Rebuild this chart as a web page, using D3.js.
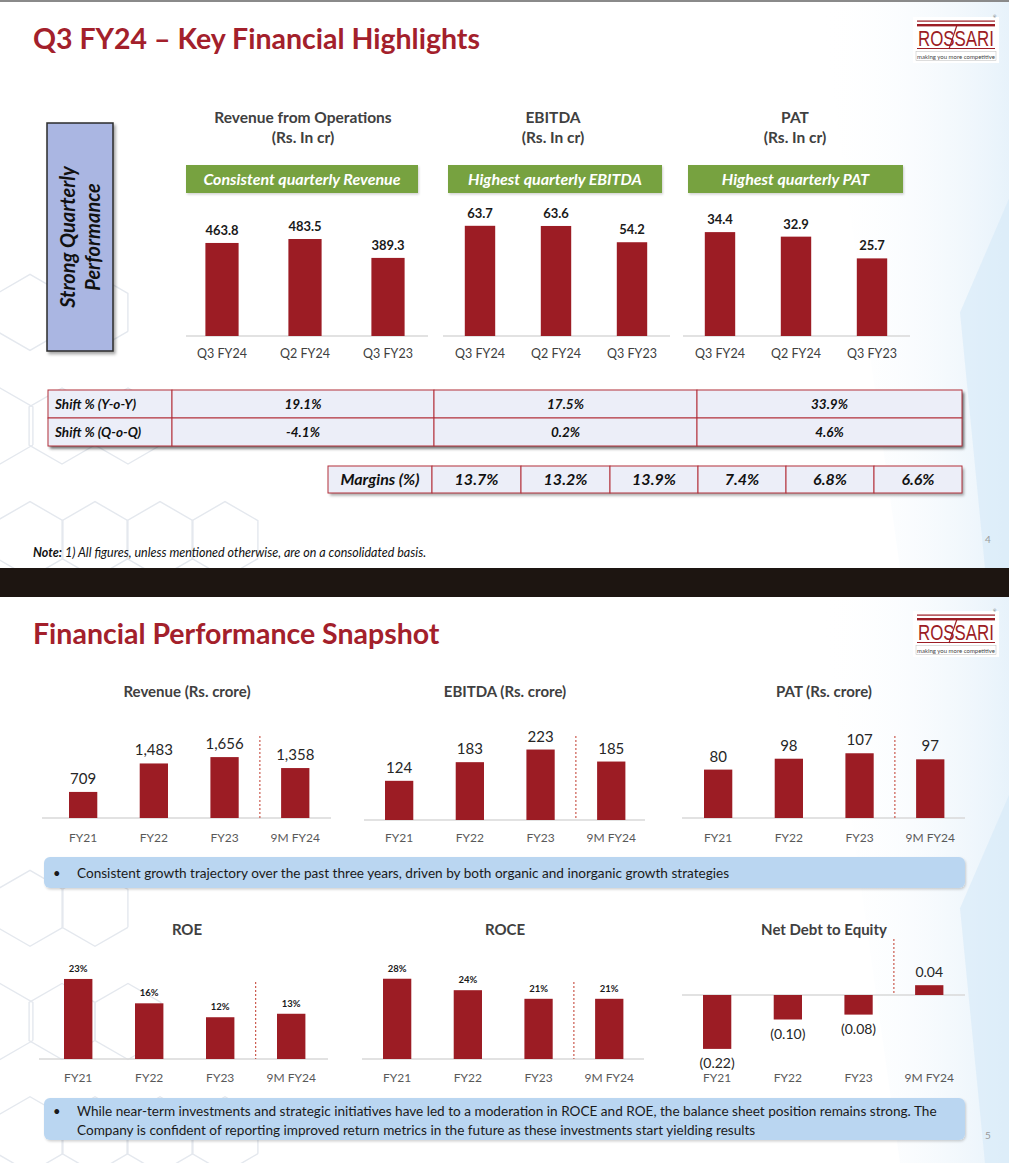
<!DOCTYPE html>
<html><head><meta charset="utf-8">
<script src="https://cdn.jsdelivr.net/npm/d3@7"></script>
<style>
body{margin:0;background:#fff}
svg{display:block}
text{font-family:Lato,"Open Sans",sans-serif}
</style>
</head><body>
<svg id="c" width="1009" height="1163"></svg>
<script>
// ---------------- DATA ----------------
const quarters = ["Q3 FY24", "Q2 FY24", "Q3 FY23"];
const qRevenue = [463.8, 483.5, 389.3];
const qEbitda = [63.7, 63.6, 54.2];
const qPat = [34.4, 32.9, 25.7];
const qTitles = ["Revenue from Operations", "EBITDA", "PAT"];
const qUnit = "(Rs. In cr)";
const qBanners = ["Consistent quarterly Revenue", "Highest quarterly EBITDA", "Highest quarterly PAT"];
const shiftRows = ["Shift % (Y-o-Y)", "Shift % (Q-o-Q)"];
const shiftYoY = [19.1, 17.5, 33.9];
const shiftQoQ = [-4.1, 0.2, 4.6];
const marginLabel = "Margins (%)";
const margins = [13.7, 13.2, 13.9, 7.4, 6.8, 6.6];
const years = ["FY21", "FY22", "FY23", "9M FY24"];
const revenue = [709, 1483, 1656, 1358];
const ebitda = [124, 183, 223, 185];
const pat = [80, 98, 107, 97];
const roe = [23, 16, 12, 13];
const roce = [28, 24, 21, 21];
const netDebtEquity = [-0.22, -0.10, -0.08, 0.04];
const bullet1 = "Consistent growth trajectory over the past three years, driven by both organic and inorganic growth strategies";
const bullet2 = ["While near-term investments and strategic initiatives have led to a moderation in ROCE and ROE, the balance sheet position remains strong. The",
                 "Company is confident of reporting improved return metrics in the future as these investments start yielding results"];

// ---------------- STYLE ----------------
const RED = "#9c1c24";
const TITLE_RED = "#a3202b";
const GRAY = "#404040";

const svg = d3.select("#c");
const defs = svg.append("defs");
const sh = defs.append("filter").attr("id","sh").attr("x","-10%").attr("y","-20%").attr("width","130%").attr("height","160%");
sh.append("feDropShadow").attr("dx",2).attr("dy",2.5).attr("stdDeviation",1.6).attr("flood-color","#000").attr("flood-opacity",0.35);
const sh2 = defs.append("filter").attr("id","sh2").attr("x","-5%").attr("y","-20%").attr("width","110%").attr("height","160%");
sh2.append("feDropShadow").attr("dx",1).attr("dy",1.5).attr("stdDeviation",1.2).attr("flood-color","#000").attr("flood-opacity",0.18);
const gr = defs.append("linearGradient").attr("id","sw").attr("x1","0").attr("y1","0").attr("x2","1").attr("y2","0");
gr.append("stop").attr("offset","0").attr("stop-color","#ffffff").attr("stop-opacity",0);
gr.append("stop").attr("offset","1").attr("stop-color","#cfe5f6").attr("stop-opacity",0.9);

// ---------------- BACKGROUND ----------------
function slideBg(y0, y1){
  const g = svg.append("g");
  g.append("rect").attr("x",0).attr("y",y0).attr("width",1009).attr("height",y1-y0).attr("fill","#fff");
  g.append("path").attr("d",`M820,${y0} L1009,${y0} L1009,${y1} L900,${y1} Z`).attr("fill","url(#sw)").attr("opacity",0.55);
  g.append("path").attr("d",`M960,${y0+ (y1-y0)*0.55} L1009,${y0+(y1-y0)*0.35} L1009,${y1} L985,${y1} Z`).attr("fill","#d6eaf8").attr("opacity",0.6);
  const hex = (cx, cy, r) => d3.range(7).map(i => [cx + r*Math.cos(Math.PI/3*i + Math.PI/6), cy + r*Math.sin(Math.PI/3*i + Math.PI/6)]);
  const centers = [[30,0.55],[95,0.55],[62,0.75],[128,0.75],[0,0.75],[30,0.95],[95,0.95],[160,0.95],[225,0.95]];
  centers.forEach(([cx,f]) => {
    g.append("path").attr("d", d3.line()(hex(cx, y0 + (y1-y0)*f, 38))).attr("fill","none").attr("stroke","#e4e8ee").attr("stroke-width",1.4);
  });
}
slideBg(0, 568);
slideBg(597, 1163);
svg.append("rect").attr("x",0).attr("y",0).attr("width",1009).attr("height",2).attr("fill","#8a8a8a");
svg.append("rect").attr("x",0).attr("y",568).attr("width",1009).attr("height",29).attr("fill","#1d1511");

// ---------------- TITLES & LOGOS ----------------
function slideTitle(txt, y){
  svg.append("text").attr("x",33).attr("y",y).attr("font-size",28.5).attr("font-weight",700).attr("fill",TITLE_RED).text(txt);
}
slideTitle("Q3 FY24 – Key Financial Highlights", 49);
slideTitle("Financial Performance Snapshot", 644);

function logo(y){
  const g = svg.append("g").attr("transform",`translate(913,${y})`);
  g.append("rect").attr("width",86).attr("height",46).attr("fill","#fff");
  g.append("rect").attr("x",4).attr("y",3.5).attr("width",78).attr("height",1.2).attr("fill",RED);
  g.append("rect").attr("x",4).attr("y",7).attr("width",78).attr("height",2.4).attr("fill",RED);
  const t = g.append("text").attr("x",0).attr("y",0).attr("font-size",22).attr("fill",RED)
    .style("font-family","'Liberation Sans Narrow','Liberation Sans',sans-serif").text("ROSSARI");
  const w = t.node().getComputedTextLength();
  t.attr("transform",`translate(5,28.5) scale(${76/w},1.02)`);
  g.append("line").attr("x1",36).attr("y1",32).attr("x2",44).attr("y2",8).attr("stroke",RED).attr("stroke-width",1.2);
  g.append("rect").attr("x",4).attr("y",31).attr("width",78).attr("height",1).attr("fill",RED);
  g.append("rect").attr("x",3).attr("y",34.5).attr("width",80).attr("height",9).attr("fill","none").attr("stroke","#bbb").attr("stroke-width",0.5);
  const t2 = g.append("text").attr("font-size",6).attr("fill","#444").text("making you more competitive");
  const w2 = t2.node().getComputedTextLength();
  t2.attr("transform",`translate(4,41.5) scale(${78/w2},1)`);
  g.append("text").attr("x",80).attr("y",1).attr("font-size",4).attr("fill","#444").text("®");
}
logo(17);
logo(611);

// ---------------- GENERIC BAR CHART ----------------
function barChart(o){
  const g = svg.append("g");
  const x = d3.scaleBand().domain(o.cats).range(o.xr).paddingInner(0.6).paddingOuter(0.3);
  const y = d3.scaleLinear().domain(o.domain).range(o.yr);
  const zero = y(0);
  const ax = g.append("g").attr("transform",`translate(0,${zero})`)
    .call(d3.axisBottom(x).tickSize(0).tickPadding(o.tickPad).tickSizeOuter(0));
  ax.select(".domain").attr("stroke","#d9d9d9").attr("stroke-width",1.6)
    .attr("d", `M${o.axisX[0]},0H${o.axisX[1]}`);
  ax.selectAll("text").attr("font-size",o.catSize).attr("fill",o.catColor || "#595959")
    .style("font-family","Lato,'Open Sans',sans-serif");
  g.selectAll("rect.bar").data(o.vals).join("rect").attr("class","bar")
    .attr("x",(d,i)=>x(o.cats[i])).attr("width",x.bandwidth())
    .attr("y",d=>Math.min(y(d),zero)).attr("height",d=>Math.abs(y(d)-zero))
    .attr("fill",RED);
  g.selectAll("text.val").data(o.vals).join("text").attr("class","val")
    .attr("x",(d,i)=>x(o.cats[i]) + x.bandwidth()/2)
    .attr("y",d=> d>=0 ? y(d) - o.valGap : y(d) + o.negGap)
    .attr("text-anchor","middle").attr("font-size",o.valSize).attr("font-weight",o.valWeight)
    .attr("fill",o.valColor || "#1a1a1a").text(o.fmt);
  if(o.dash){
    const xs = x(o.cats[o.cats.length-1]) - (x.step()-x.bandwidth())/2;
    g.append("line").attr("x1",xs).attr("x2",xs).attr("y1",o.dash[0]).attr("y2",o.dash[1])
      .attr("stroke","#c0392b").attr("stroke-width",1).attr("stroke-dasharray","2,2");
  }
  if(o.title){
    o.title.forEach((t,i)=> g.append("text").attr("x",o.titleX).attr("y",o.titleY + i*20)
      .attr("text-anchor","middle").attr("font-size",o.titleSize).attr("font-weight",700).attr("fill",GRAY).text(t));
  }
  return g;
}

// ---------------- TOP SLIDE ----------------
svg.append("rect").attr("x",47).attr("y",123).attr("width",66).attr("height",228)
  .attr("fill","#aab6e2").attr("stroke","#2b2b2b").attr("stroke-width",1.5).attr("filter","url(#sh)");
[["Strong Quarterly",68],["Performance",93]].forEach(([t,cx]) => {
  svg.append("text").attr("transform",`translate(${cx + 7},237) rotate(-90)`).attr("text-anchor","middle")
    .attr("font-size",20).attr("font-weight",700).attr("font-style","italic").attr("fill","#111").text(t);
});

const topCfg = [
  {vals:qRevenue, xr:[180.5,429.5], axisX:[186,428], domain:[0,500], h:100.3, fmt:d=>d.toFixed(1), titleX:303, banner:[186,418]},
  {vals:qEbitda, xr:[442,670], axisX:[443,670], domain:[0,70], h:121.1, fmt:d=>d.toFixed(1), titleX:553, banner:[448,662]},
  {vals:qPat, xr:[682,910], axisX:[683,910], domain:[0,40], h:120.8, fmt:d=>d.toFixed(1), titleX:795, banner:[688,903]}
];
topCfg.forEach((c,i)=>{
  barChart({cats:quarters, vals:c.vals, xr:c.xr, axisX:c.axisX, domain:c.domain, yr:[336,336-c.h],
    tickPad:13, catSize:12.5, catColor:"#404040", valSize:13, valWeight:700, valGap:8, negGap:0, fmt:c.fmt,
    title:[qTitles[i], qUnit], titleX:c.titleX, titleY:123, titleSize:15.5});
  svg.append("rect").attr("x",c.banner[0]).attr("y",165).attr("width",c.banner[1]-c.banner[0]).attr("height",28)
    .attr("fill","#77a23f").attr("filter","url(#sh2)");
  svg.append("text").attr("x",(c.banner[0]+c.banner[1])/2).attr("y",185).attr("text-anchor","middle")
    .attr("font-size",16).attr("font-weight",700).attr("font-style","italic").attr("fill","#fff").text(qBanners[i]);
});

function tableRow(cols, y0, y1, cells, labelLeft, fs){
  const g = svg.append("g");
  g.append("rect").attr("x",cols[0]).attr("y",y0).attr("width",cols[cols.length-1]-cols[0]).attr("height",y1-y0)
    .attr("fill","#eceef8").attr("filter","url(#sh)");
  cols.slice(0,-1).forEach((cx,i)=>{
    g.append("rect").attr("x",cx).attr("y",y0).attr("width",cols[i+1]-cx).attr("height",y1-y0)
      .attr("fill","#eceef8").attr("stroke","#b3313b").attr("stroke-width",1);
    g.append("text").attr("x", (i===0 && labelLeft) ? cx+7 : (cx+cols[i+1])/2).attr("y",(y0+y1)/2+fs*0.36)
      .attr("text-anchor",(i===0 && labelLeft) ? "start":"middle")
      .attr("font-size",fs).attr("font-weight",700).attr("font-style","italic").attr("fill","#111").text(cells[i]);
  });
}
const pct = d => d.toFixed(1) + "%";
const tcols = [48,172,434,697,962];
svg.append("rect").attr("x",48).attr("y",390).attr("width",914).attr("height",56).attr("fill","#eceef8").attr("filter","url(#sh)");
tableRow(tcols, 390, 418, [shiftRows[0], ...shiftYoY.map(pct)], true, 13.5);
tableRow(tcols, 418, 446, [shiftRows[1], ...shiftQoQ.map(pct)], true, 13.5);
tableRow([328,432,521,610,698,786,874,962], 466, 493, [marginLabel, ...margins.map(pct)], false, 16);

const note = svg.append("text").attr("x",33).attr("y",557).attr("font-size",12.5).attr("font-style","italic").attr("fill","#111");
note.append("tspan").attr("font-weight",700).text("Note:");
note.append("tspan").text("  1) All figures, unless mentioned otherwise, are on a consolidated basis.");
svg.append("text").attr("x",985).attr("y",543).attr("font-size",10).attr("fill","#999").text("4");

// ---------------- BOTTOM SLIDE ----------------
const commas = d3.format(",");
const row1 = [
  {vals:revenue, xr:[47.8,330.6], axisX:[42,331], base:818, domain:[0,1800], h:66.2, title:"Revenue (Rs. crore)", tx:187},
  {vals:ebitda, xr:[363.8,646.6], axisX:[364,645], base:820, domain:[0,250], h:79, title:"EBITDA (Rs. crore)", tx:505},
  {vals:pat, xr:[682.8,965.6], axisX:[682,965], base:818, domain:[0,120], h:72.6, title:"PAT (Rs. crore)", tx:824}
];
row1.forEach(c=>{
  barChart({cats:years, vals:c.vals, xr:c.xr, axisX:c.axisX, domain:c.domain, yr:[c.base,c.base-c.h],
    tickPad:c.base===820?13:15, catSize:12, valSize:15, valWeight:400, valColor:"#262626", valGap:8, negGap:0, fmt:commas,
    dash:[736,c.base], title:[c.title], titleX:c.tx, titleY:697, titleSize:15});
});

function callout(y0,y1,lines){
  svg.append("rect").attr("x",44).attr("y",y0).attr("width",921).attr("height",y1-y0).attr("rx",6)
    .attr("fill","#bad6f1").attr("filter","url(#sh2)");
  const by = y0 + (lines.length===1 ? 21 : 18);
  svg.append("text").attr("x",53).attr("y",by).attr("font-size",13).attr("fill","#1a1a1a").text("•");
  lines.forEach((l,i)=> svg.append("text").attr("x",77).attr("y",by + i*19)
    .attr("font-size",13.6).attr("fill","#1a1a1a").text(l));
}
callout(857, 888, [bullet1]);

const pctInt = d => d + "%";
barChart({cats:years, vals:roe, xr:[42.7,326.7], axisX:[39,328], domain:[0,25], yr:[1059,1059-87],
  tickPad:14, catSize:12, valSize:9.5, valWeight:700, valGap:7, negGap:0, fmt:pctInt,
  dash:[982,1059], title:["ROE"], titleX:187, titleY:935, titleSize:15});
barChart({cats:years, vals:roce, xr:[361.8,644.6], axisX:[362,644], domain:[0,30], yr:[1059,1059-86],
  tickPad:14, catSize:12, valSize:9.5, valWeight:700, valGap:7, negGap:0, fmt:pctInt,
  dash:[982,1059], title:["ROCE"], titleX:505, titleY:935, titleSize:15});
const ndFmt = d => d < 0 ? "(" + Math.abs(d).toFixed(2) + ")" : d.toFixed(2);
barChart({cats:years, vals:netDebtEquity, xr:[681.8,964.6], axisX:[682,965], domain:[-0.25,0.05], yr:[995+0.25*245, 995-0.05*245],
  tickPad:78, catSize:12, valSize:14, valWeight:400, valColor:"#262626", valGap:8, negGap:19, fmt:ndFmt,
  dash:[939,995], title:["Net Debt to Equity"], titleX:824, titleY:935, titleSize:15});

callout(1098, 1140, bullet2);
svg.append("text").attr("x",985).attr("y",1139).attr("font-size",10).attr("fill","#999").text("5");
</script>
</body></html>
